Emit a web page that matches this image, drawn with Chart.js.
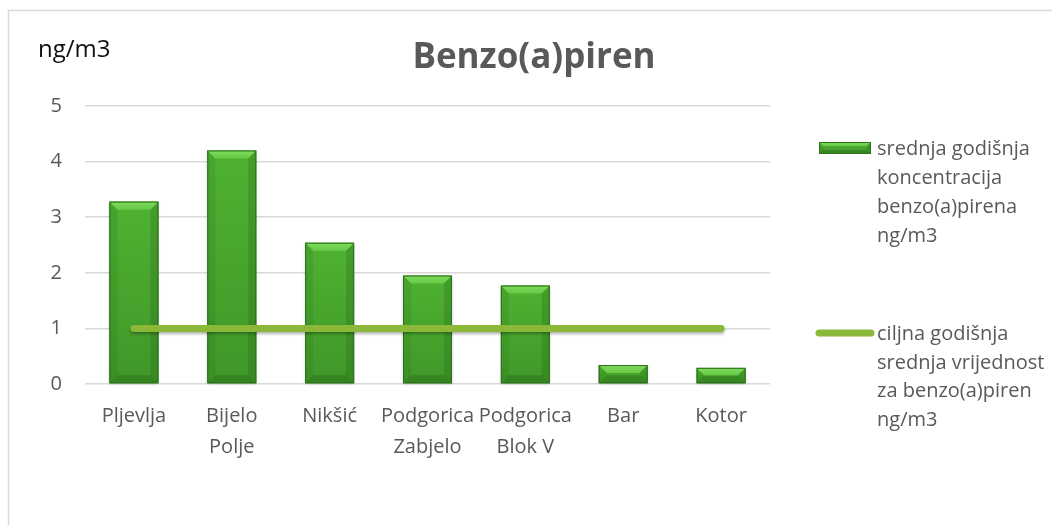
<!DOCTYPE html>
<html>
<head>
<meta charset="utf-8">
<script src="https://cdn.jsdelivr.net/npm/chart.js@4.4.1/dist/chart.umd.min.js"></script>
<style>
  html, body { margin: 0; padding: 0; background: #ffffff; }
  #wrap { width: 1053px; height: 525px; position: relative; }
</style>
</head>
<body>
<div id="wrap"><canvas id="c" width="1053" height="525"></canvas></div>
<script>
const categories = ['Pljevlja', ['Bijelo', 'Polje'], 'Nikšić', ['Podgorica', 'Zabjelo'], ['Podgorica', 'Blok V'], 'Bar', 'Kotor'];
const meanValues = [3.28, 4.20, 2.54, 1.95, 1.77, 0.34, 0.29];
const targetValues = [1, 1, 1, 1, 1, 1, 1];
const yTicks = [0, 1, 2, 3, 4, 5];
const barLegendLines = ['srednja godišnja', 'koncentracija', 'benzo(a)pirena', 'ng/m3'];
const lineLegendLines = ['ciljna godišnja', 'srednja vrijednost', 'za benzo(a)piren', 'ng/m3'];
const chartTitle = 'Benzo(a)piren';
const unitLabel = 'ng/m3';

const FONT = "'Open Sans', 'DejaVu Sans', sans-serif";
const TEXT_GRAY = '#595959';
const GRID = '#d9d9d9';
const LINE_GREEN = '#8cb83a';

function drawBevelBar(ctx, left, right, top, bottom, bevel) {
  ctx.save();
  const w = right - left, h = bottom - top;
  const b = Math.min(bevel, h / 2, w / 2);
  const g = ctx.createLinearGradient(0, top, 0, bottom);
  g.addColorStop(0, '#4fb232');
  g.addColorStop(1, '#3f9728');
  ctx.fillStyle = g;
  ctx.fillRect(left, top, w, h);
  // top bevel (light)
  ctx.beginPath();
  ctx.moveTo(left, top); ctx.lineTo(right, top);
  ctx.lineTo(right - b, top + b); ctx.lineTo(left + b, top + b); ctx.closePath();
  const tg = ctx.createLinearGradient(0, top, 0, top + b);
  tg.addColorStop(0, '#7fdc5c');
  tg.addColorStop(1, '#66c946');
  ctx.fillStyle = tg;
  ctx.fill();
  // left bevel
  ctx.beginPath();
  ctx.moveTo(left, top); ctx.lineTo(left + b, top + b);
  ctx.lineTo(left + b, bottom - b); ctx.lineTo(left, bottom); ctx.closePath();
  ctx.fillStyle = 'rgba(40,110,25,0.18)';
  ctx.fill();
  // right bevel
  ctx.beginPath();
  ctx.moveTo(right, top); ctx.lineTo(right - b, top + b);
  ctx.lineTo(right - b, bottom - b); ctx.lineTo(right, bottom); ctx.closePath();
  ctx.fillStyle = 'rgba(35,95,20,0.25)';
  ctx.fill();
  // bottom bevel
  ctx.beginPath();
  ctx.moveTo(left, bottom); ctx.lineTo(right, bottom);
  ctx.lineTo(right - b, bottom - b); ctx.lineTo(left + b, bottom - b); ctx.closePath();
  ctx.fillStyle = 'rgba(30,85,18,0.3)';
  ctx.fill();
  ctx.strokeStyle = '#2f6f1d';
  ctx.lineWidth = 1;
  ctx.strokeRect(left + 0.5, top + 0.5, w - 1, h - 1);
  ctx.restore();
}

const decorPlugin = {
  id: 'decor',
  beforeDraw(chart) {
    const ctx = chart.ctx;
    ctx.save();
    ctx.fillStyle = '#ffffff';
    ctx.fillRect(0, 0, chart.width, chart.height);
    ctx.strokeStyle = GRID;
    ctx.lineWidth = 1.5;
    ctx.beginPath();
    ctx.moveTo(8.5, chart.height);
    ctx.lineTo(8.5, 10.5);
    ctx.lineTo(chart.width - 1, 10.5);
    ctx.stroke();
    ctx.restore();
  },
  beforeDatasetDraw(chart, args) {
    if (args.index === 1) {
      const ctx = chart.ctx;
      ctx.save();
      ctx.shadowColor = 'rgba(0,0,0,0.3)';
      ctx.shadowBlur = 3;
      ctx.shadowOffsetY = 2;
    }
  },
  afterDatasetDraw(chart, args) {
    const ctx = chart.ctx;
    if (args.index === 1) { ctx.restore(); }
    if (args.index === 0) {
      const meta = chart.getDatasetMeta(0);
      meta.data.forEach(el => {
        const p = el.getProps(['x', 'y', 'base', 'width'], true);
        ctx.save();
        ctx.shadowColor = 'rgba(0,0,0,0.25)';
        ctx.shadowBlur = 3;
        ctx.shadowOffsetY = 1;
        ctx.fillStyle = '#3e9427';
        ctx.fillRect(p.x - p.width / 2, p.y, p.width, p.base - p.y);
        ctx.restore();
        drawBevelBar(ctx, p.x - p.width / 2, p.x + p.width / 2, p.y, p.base, 8);
      });
    }
  },
  afterDraw(chart) {
    const ctx = chart.ctx;
    ctx.save();
    ctx.fillStyle = TEXT_GRAY;
    ctx.font = "bold 35px " + FONT;
    ctx.textAlign = 'center';
    ctx.textBaseline = 'alphabetic';
    ctx.fillText(chartTitle, 534, 68);
    ctx.fillStyle = '#111111';
    ctx.font = "24px " + FONT;
    ctx.textAlign = 'left';
    ctx.fillText(unitLabel, 38, 57);
    // legend
    drawBevelBar(ctx, 819, 871, 142, 154, 4);
    ctx.font = "20px " + FONT;
    ctx.fillStyle = TEXT_GRAY;
    barLegendLines.forEach((t, i) => ctx.fillText(t, 877, 155 + i * 29));
    ctx.strokeStyle = LINE_GREEN;
    ctx.lineWidth = 7;
    ctx.lineCap = 'round';
    ctx.beginPath();
    ctx.moveTo(819, 333); ctx.lineTo(871, 333);
    ctx.stroke();
    ctx.fillStyle = TEXT_GRAY;
    lineLegendLines.forEach((t, i) => ctx.fillText(t, 877, 340 + i * 28.5));
    ctx.restore();
  }
};

new Chart(document.getElementById('c'), {
  data: {
    labels: categories,
    datasets: [
      {
        type: 'bar',
        label: barLegendLines.join(' '),
        data: meanValues,
        backgroundColor: 'rgba(0,0,0,0)',
        borderWidth: 0,
        categoryPercentage: 1,
        barPercentage: 0.5,
        order: 2
      },
      {
        type: 'line',
        label: lineLegendLines.join(' '),
        data: targetValues,
        borderColor: LINE_GREEN,
        borderWidth: 7,
        borderCapStyle: 'round',
        pointRadius: 0,
        fill: false,
        order: 1
      }
    ]
  },
  options: {
    responsive: false,
    animation: false,
    events: [],
    layout: { padding: { left: 8, top: 106, right: 283, bottom: 0 } },
    plugins: {
      legend: { display: false },
      title: { display: false },
      tooltip: { enabled: false }
    },
    scales: {
      x: {
        grid: { display: false, drawTicks: false },
        border: { display: false },
        ticks: {
          color: TEXT_GRAY,
          font: { family: FONT, size: 20, lineHeight: 1.55 },
          padding: 17,
          maxRotation: 0,
          autoSkip: false
        },
        afterFit(scale) { scale.height = 141; }
      },
      y: {
        min: 0,
        max: 5,
        afterBuildTicks(scale) { scale.ticks = yTicks.map(v => ({ value: v })); },
        grid: { color: GRID, lineWidth: 1.5, drawTicks: false },
        border: { display: false },
        ticks: {
          color: TEXT_GRAY,
          font: { family: FONT, size: 20 },
          padding: 23
        },
        afterFit(scale) { scale.width = 77; }
      }
    }
  },
  plugins: [decorPlugin]
});
</script>
</body>
</html>
